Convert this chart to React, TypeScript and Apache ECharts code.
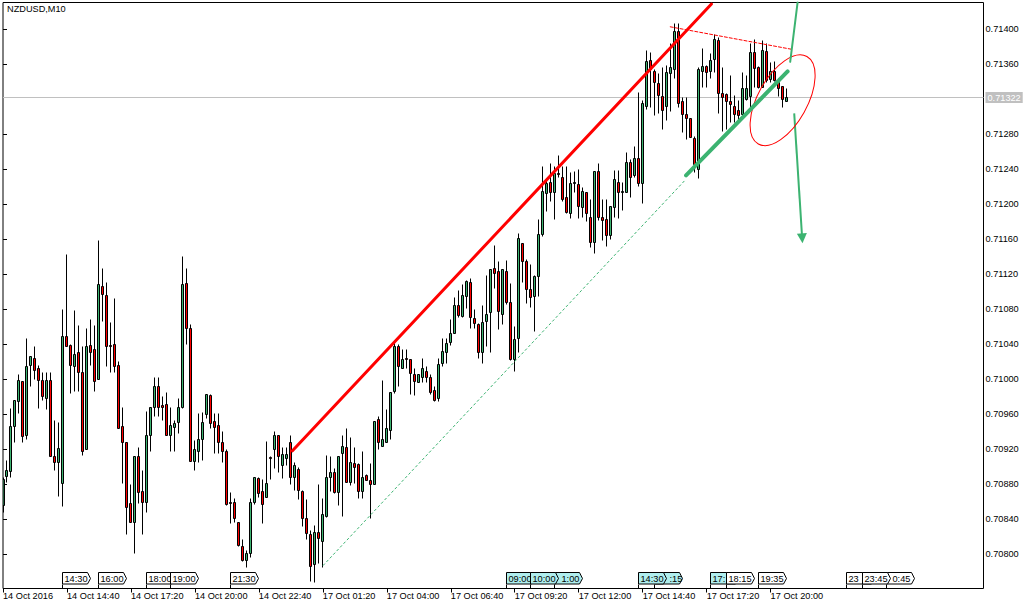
import React, { useEffect, useRef } from "react";
import * as echarts from "echarts";

// All candle values are in 0.00001 units above 0.70000.
const opens = [
  856,889,894,946,974,997,935,1016,1024,1012,
  998,978,998,911,905,881,1049,1038,1015,1030,
  1008,920,1038,1034,1000,1106,1096,1038,1040,1016,
  946,928,858,836,912,871,859,935,968,992,
  970,971,935,945,950,968,1109,1058,906,917,
  931,960,981,951,947,928,917,859,859,836,
  808,793,801,859,886,871,865,910,920,936,
  901,909,928,887,897,872,841,822,788,824,
  814,843,887,893,870,915,922,882,904,902,
  871,890,884,880,954,923,928,941,986,1037,
  1012,1024,1023,1005,996,1002,1009,1002,987,978,
  1018,1030,1042,1052,1084,1072,1095,1111,1069,1063,
  1030,1066,1076,1127,1123,1074,1123,1088,1022,1047,
  1155,1135,1102,1094,1117,1165,1212,1225,1213,1235,
  1231,1208,1190,1224,1223,1196,1213,1185,1156,1238,
  1185,1183,1164,1196,1225,1214,1214,1248,1233,1252,
  1224,1312,1364,1352,1338,1323,1312,1350,1354,1398,
  1317,1303,1298,1275,1240,1352,1358,1352,1366,1387,
  1327,1325,1317,1312,1307,1303,1320,1323,1374,1357,
  1334,1375,1343,1352,1339,1335,1318,
];
const highs = [
  888,907,966,976,1005,997,1047,1026,1037,1016,
  1008,1008,1008,953,950,1080,1143,1040,1078,1061,
  1037,1058,1068,1061,1159,1127,1111,1065,1092,1020,
  968,928,879,912,922,896,963,968,1002,1002,
  980,985,968,953,978,1140,1127,1062,930,961,
  962,982,982,961,961,940,920,870,863,836,
  817,804,864,888,888,885,929,912,940,936,
  922,922,936,905,899,873,862,827,832,880,
  863,913,912,898,912,936,944,933,922,904,
  917,891,903,952,957,998,965,985,1042,1040,
  1034,1034,1023,1012,1005,1024,1015,1005,992,1024,
  1047,1047,1068,1093,1101,1108,1113,1115,1080,1064,
  1084,1118,1125,1153,1134,1125,1136,1109,1060,1166,
  1155,1137,1131,1119,1183,1243,1230,1247,1243,1256,
  1243,1243,1236,1237,1240,1219,1214,1205,1238,1247,
  1205,1205,1197,1239,1239,1225,1259,1251,1266,1328,
  1319,1376,1374,1354,1350,1357,1359,1384,1407,1407,
  1322,1322,1298,1277,1356,1378,1359,1373,1394,1391,
  1357,1327,1347,1324,1319,1351,1347,1384,1388,1358,
  1387,1384,1362,1363,1344,1335,1333,
];
const lows = [
  848,882,888,928,961,927,931,991,999,966,
  975,965,911,896,866,854,1037,984,986,986,
  913,920,1016,986,1000,1066,1014,1008,1008,944,
  881,822,836,801,858,822,847,917,957,957,
  953,936,917,917,938,966,1040,906,896,905,
  907,955,944,915,915,905,855,835,836,808,
  791,784,796,857,865,835,865,885,898,893,
  886,901,879,873,862,831,816,769,767,789,
  784,842,872,869,856,843,882,878,881,863,
  863,884,841,880,920,923,927,931,983,991,
  1012,1012,982,981,996,996,996,982,974,974,
  1014,1018,1039,1052,1071,1071,1081,1058,1058,1024,
  1018,1037,1031,1104,1057,1063,1085,1021,1009,1031,
  1110,1087,1082,1055,1095,1163,1192,1203,1183,1231,
  1203,1190,1184,1213,1184,1185,1180,1151,1144,1182,
  1159,1152,1160,1185,1184,1193,1214,1208,1231,1220,
  1201,1308,1311,1302,1304,1285,1296,1306,1344,1311,
  1282,1274,1276,1236,1230,1334,1334,1344,1351,1304,
  1283,1285,1293,1294,1295,1302,1319,1308,1334,1333,
  1334,1339,1339,1340,1323,1311,1317,
];
const closes = [
  885,895,946,976,998,934,1015,1026,1010,998,
  980,998,911,905,921,1049,1037,1016,1028,1008,
  917,1037,1031,997,1108,1097,1037,1037,1015,944,
  928,853,836,912,870,859,936,968,992,968,
  968,936,947,949,968,1108,1058,906,920,931,
  950,982,949,945,928,917,857,858,840,810,
  793,801,859,887,869,857,881,909,935,911,
  914,914,887,901,873,841,823,786,824,818,
  845,888,893,870,912,923,882,905,899,871,
  888,884,880,952,927,931,943,985,1037,1014,
  1023,1023,1006,997,1005,1012,1002,985,976,1017,
  1032,1041,1052,1084,1073,1096,1112,1070,1064,1031,
  1065,1074,1125,1121,1077,1125,1088,1022,1045,1161,
  1134,1103,1093,1117,1165,1215,1224,1214,1235,1234,
  1206,1191,1224,1225,1197,1215,1190,1156,1237,1185,
  1182,1164,1197,1228,1214,1215,1248,1231,1252,1224,
  1315,1363,1354,1339,1324,1307,1351,1356,1398,1315,
  1303,1298,1276,1245,1354,1358,1351,1364,1388,1327,
  1322,1317,1314,1303,1302,1332,1333,1374,1355,1334,
  1376,1342,1352,1342,1333,1320,1322,
];

const xTickEvery = 16;
const xTickLabels = [
  "14 Oct 2016", "14 Oct 14:40", "14 Oct 17:20", "14 Oct 20:00", "14 Oct 22:40",
  "17 Oct 01:20", "17 Oct 04:00", "17 Oct 06:40", "17 Oct 09:20", "17 Oct 12:00",
  "17 Oct 14:40", "17 Oct 17:20", "17 Oct 20:00",
];
const yTickValues = [
  0.708, 0.7084, 0.7088, 0.7092, 0.7096, 0.71, 0.7104, 0.7108, 0.7112, 0.7116,
  0.712, 0.7124, 0.7128, 0.7136, 0.714,
];
const currentPrice = 0.71322;
const yMin = 0.707605;
const yMax = 0.714308;
const xMin = 0;
const xMax = 245.25;

// Time flags along the bottom, in drawing order:
// [bar index, visible text, highlighted, text inset]
const timeFlags: [number, string, boolean, number][] = [
  [15, "14:30", false, 2],
  [24, "16:00", false, 2],
  [36, "18:00", false, 2],
  [42, "19:00", false, 2],
  [57, "21:30", false, 2],
  [126, "09:00", true, 2],
  [138, "1:00", true, 7],
  [132, "10:00", true, 2],
  [163, ":15", true, 15],
  [159, "14:30", true, 2],
  [177, "17:", true, 2],
  [181, "18:15", false, 2],
  [189, "19:35", false, 2],
  [211, "23", false, 2],
  [221, "0:45", false, 6],
  [215, "23:45", false, 2],
];

// Drawn objects: end points as [bar index, price]
const redTrend = [[72.4, 0.70918], [177.2, 0.71429]];
const greenChannel = [[80.1, 0.70787], [170.7, 0.71228]];
const greenTrend = [[170.85, 0.71233], [196.25, 0.71352]];
const redDashed = [[166.9, 0.71403], [197.6, 0.71377]];
const arrowUp = [[196.9, 0.71363], [198.75, 0.71431]];
const arrowDown = [[197.9, 0.71304], [199.9, 0.71161]];
const ellipseCentre = [[195, 0.71319]];

const GREEN = "#3cb371";
const RED = "#ff0000";
const FONT = "'Liberation Sans', Arial, sans-serif";
const FONT_SIZE = 9.2;

const toPrice = (p: number) => +(0.7 + p / 100000).toFixed(5);
const crisp = (v: number) => Math.floor(v) + 0.5;

function lineSeries(data: number[][], color: string, width: number, type: any = "solid") {
  return {
    type: "line",
    data,
    symbol: "none",
    silent: true,
    z: 4,
    lineStyle: { color, width, type, cap: "round" },
  };
}

export default function App() {
  const ref = useRef<HTMLDivElement>(null);

  useEffect(() => {
    document.body.style.margin = "0";
    const chart = echarts.init(ref.current!, null, { renderer: "svg" });
    const xTicks = xTickLabels.map((_, i) => i * xTickEvery);

    chart.setOption({
      animation: false,
      backgroundColor: "#ffffff",
      title: {
        text: "NZDUSD,M10",
        left: 7,
        top: 4.5,
        padding: 0,
        textStyle: { fontSize: FONT_SIZE, fontWeight: "normal", color: "#000", fontFamily: FONT },
      },
      grid: {
        show: true,
        left: 2.5,
        top: 2.5,
        width: 981,
        height: 586,
        borderColor: "#000",
        borderWidth: 1,
        backgroundColor: "#fff",
      },
      xAxis: {
        type: "value",
        min: xMin,
        max: xMax,
        splitLine: { show: false },
        axisLine: { show: false },
        axisTick: { show: true, length: 4, lineStyle: { color: "#000" }, customValues: xTicks },
        axisLabel: {
          show: true,
          customValues: xTicks,
          align: "left",
          margin: 3,
          fontSize: FONT_SIZE,
          color: "#000",
          fontFamily: FONT,
          hideOverlap: false,
          formatter: (v: number) => xTickLabels[Math.round(v / xTickEvery)] ?? "",
        },
      },
      yAxis: {
        type: "value",
        position: "right",
        min: yMin,
        max: yMax,
        splitLine: { show: false },
        axisLine: { show: false },
        axisTick: { show: true, length: 4, lineStyle: { color: "#000" }, customValues: yTickValues },
        axisLabel: {
          show: true,
          customValues: yTickValues,
          margin: 2,
          fontSize: FONT_SIZE,
          color: "#000",
          fontFamily: FONT,
          formatter: (v: number) => v.toFixed(5),
        },
      },
      series: [
        {
          type: "line",
          data: [],
          z: 1,
          silent: true,
          markLine: {
            silent: true,
            symbol: "none",
            precision: 5,
            z: 1,
            animation: false,
            lineStyle: { color: "#c0c0c0", width: 1, type: "solid" },
            label: {
              show: true,
              position: "end",
              distance: 2,
              formatter: currentPrice.toFixed(5),
              color: "#ffffff",
              backgroundColor: "#c0c0c0",
              padding: [1, 2, 1, 2],
              fontSize: FONT_SIZE,
              fontFamily: FONT,
            },
            data: [{ yAxis: currentPrice }],
          },
        },
        {
          type: "custom",
          z: 2,
          silent: true,
          clip: true,
          encode: { x: 0, y: [1, 2, 3, 4] },
          data: opens.map((o, i) => [
            i, toPrice(o), toPrice(highs[i]), toPrice(lows[i]), toPrice(closes[i]),
          ]),
          renderItem: (params: any, api: any) => {
            const i = api.value(0);
            const o = api.value(1);
            const h = api.value(2);
            const l = api.value(3);
            const c = api.value(4);
            const x = crisp(api.coord([i, o])[0]);
            const yO = crisp(api.coord([i, o])[1]);
            const yC = crisp(api.coord([i, c])[1]);
            const yH = crisp(api.coord([i, h])[1]);
            const yL = crisp(api.coord([i, l])[1]);
            const top = Math.min(yO, yC);
            const bottom = Math.max(yO, yC);
            const box = {
              x: x - 1,
              y: top,
              width: 2,
              height: Math.max(bottom - top, 0),
            };
            const clip = (s: any) =>
              echarts.graphic.clipRectByRect(s, {
                x: params.coordSys.x,
                y: params.coordSys.y,
                width: params.coordSys.width,
                height: params.coordSys.height,
              });
            const clipped = clip(box);
            const children: any[] = [
              {
                type: "line",
                shape: { x1: x, y1: yH, x2: x, y2: yL },
                style: { stroke: "#000", lineWidth: 1 },
              },
            ];
            if (bottom - top < 1) {
              children.push({
                type: "line",
                shape: { x1: x - 1.5, y1: top, x2: x + 1.5, y2: top },
                style: { stroke: "#000", lineWidth: 1 },
              });
            } else if (clipped) {
              children.push({
                type: "rect",
                shape: clipped,
                style: {
                  fill: c > o ? GREEN : RED,
                  stroke: "#000",
                  lineWidth: 1,
                },
              });
            }
            return { type: "group", children };
          },
        },
        lineSeries(redTrend, RED, 3),
        lineSeries(greenChannel, GREEN, 1, [2, 3]),
        lineSeries(greenTrend, GREEN, 4),
        lineSeries(redDashed, RED, 1, [3, 2]),
        lineSeries(arrowUp, GREEN, 2),
        {
          type: "line",
          data: [],
          z: 4,
          silent: true,
          markLine: {
            silent: true,
            animation: false,
            precision: 5,
            z: 4,
            symbol: ["none", "triangle"],
            symbolSize: [10, 10],
            label: { show: false },
            lineStyle: { color: GREEN, width: 2, type: "solid" },
            data: [[
              { coord: arrowDown[0] },
              { coord: arrowDown[1] },
            ]],
          },
        },
        {
          type: "custom",
          z: 4,
          silent: true,
          clip: false,
          data: ellipseCentre,
          encode: { x: 0, y: 1 },
          renderItem: (_: any, api: any) => {
            const c = api.coord([api.value(0), api.value(1)]);
            return {
              type: "ellipse",
              x: c[0],
              y: c[1],
              rotation: 1.063,
              shape: { cx: 0, cy: 0, rx: 50, ry: 24.7 },
              style: { fill: "none", stroke: RED, lineWidth: 1 },
            };
          },
        },
        {
          type: "custom",
          z: 5,
          silent: true,
          clip: false,
          data: timeFlags.map((f) => [f[0], yMin]),
          encode: { x: 0, y: 1 },
          renderItem: (params: any, api: any) => {
            const c = api.coord([api.value(0), yMin]);
            const flag = timeFlags[params.dataIndex];
            const x = crisp(c[0]);
            const y = crisp(c[1]);
            return {
              type: "group",
              children: [
                {
                  type: "line",
                  shape: { x1: x, y1: y - 4, x2: x, y2: y },
                  style: { stroke: "#000", lineWidth: 1 },
                },
                {
                  type: "polygon",
                  shape: {
                    points: [
                      [x, y - 4.5],
                      [x, y - 16],
                      [x + 25, y - 16],
                      [x + 28, y - 10],
                      [x + 25, y - 4.5],
                    ],
                  },
                  style: { fill: flag[2] ? "#afeeee" : "#ffffff", stroke: "#000", lineWidth: 1 },
                },
                {
                  type: "text",
                  x: x + flag[3],
                  y: y - 10,
                  style: {
                    text: flag[1],
                    fontSize: FONT_SIZE,
                    fontFamily: FONT,
                    fill: "#000",
                    verticalAlign: "middle",
                    align: "left",
                  },
                },
              ],
            };
          },
        },
      ],
    });

    return () => chart.dispose();
  }, []);

  return (
    <div
      ref={ref}
      style={{ position: "absolute", left: 0, top: 0, width: 1036, height: 609 }}
    />
  );
}
